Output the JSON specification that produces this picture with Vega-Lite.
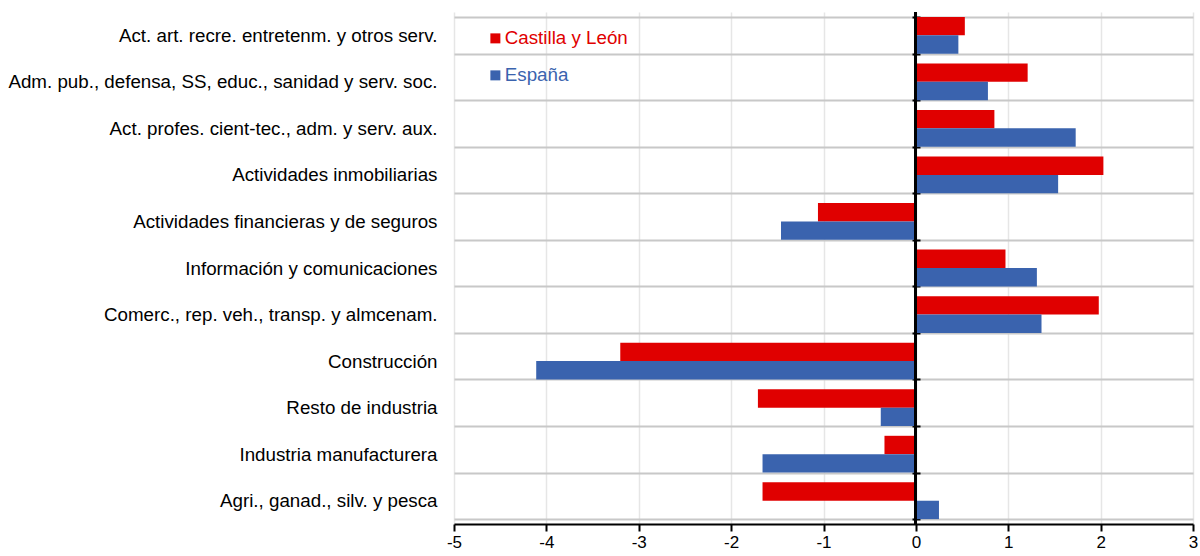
{
  "$schema": "https://vega.github.io/schema/vega-lite/v6.json",
  "width": 739,
  "height": 512,
  "autosize": {"type": "none"},
  "padding": {"left": 454, "top": 12, "right": 7, "bottom": 32},
  "background": "white",
  "config": {
    "view": {"stroke": null},
    "font": "Liberation Sans"
  },
  "data": {
    "values": [
      {"cat": "Act. art. recre. entretenm. y otros serv.", "serie": "Castilla y León", "valor": 0.53},
      {"cat": "Act. art. recre. entretenm. y otros serv.", "serie": "España", "valor": 0.46},
      {"cat": "Adm. pub., defensa, SS, educ., sanidad y serv. soc.", "serie": "Castilla y León", "valor": 1.21},
      {"cat": "Adm. pub., defensa, SS, educ., sanidad y serv. soc.", "serie": "España", "valor": 0.78},
      {"cat": "Act. profes. cient-tec., adm. y serv. aux.", "serie": "Castilla y León", "valor": 0.85},
      {"cat": "Act. profes. cient-tec., adm. y serv. aux.", "serie": "España", "valor": 1.73},
      {"cat": "Actividades inmobiliarias", "serie": "Castilla y León", "valor": 2.03},
      {"cat": "Actividades inmobiliarias", "serie": "España", "valor": 1.54},
      {"cat": "Actividades financieras y de seguros", "serie": "Castilla y León", "valor": -1.06},
      {"cat": "Actividades financieras y de seguros", "serie": "España", "valor": -1.46},
      {"cat": "Información y comunicaciones", "serie": "Castilla y León", "valor": 0.97},
      {"cat": "Información y comunicaciones", "serie": "España", "valor": 1.31},
      {"cat": "Comerc., rep. veh., transp. y almcenam.", "serie": "Castilla y León", "valor": 1.98},
      {"cat": "Comerc., rep. veh., transp. y almcenam.", "serie": "España", "valor": 1.36},
      {"cat": "Construcción", "serie": "Castilla y León", "valor": -3.2},
      {"cat": "Construcción", "serie": "España", "valor": -4.11},
      {"cat": "Resto de industria", "serie": "Castilla y León", "valor": -1.71},
      {"cat": "Resto de industria", "serie": "España", "valor": -0.38},
      {"cat": "Industria manufacturera", "serie": "Castilla y León", "valor": -0.34},
      {"cat": "Industria manufacturera", "serie": "España", "valor": -1.66},
      {"cat": "Agri., ganad., silv. y pesca", "serie": "Castilla y León", "valor": -1.66},
      {"cat": "Agri., ganad., silv. y pesca", "serie": "España", "valor": 0.25}
    ]
  },
  "resolve": {"scale": {"y": "shared"}, "axis": {"y": "independent"}},
  "layer": [
    {
      "mark": {"type": "bar"},
      "encoding": {
        "y": {
          "field": "cat",
          "type": "nominal",
          "sort": null,
          "scale": {"paddingInner": 0.21, "paddingOuter": 0.105},
          "axis": {
            "orient": "left",
            "title": null,
            "tickBand": "extent",
            "grid": true,
            "gridColor": "#C8C8C8",
            "gridWidth": 2,
            "ticks": false,
            "domain": false,
            "labelPadding": 17,
            "labelFontSize": 18.75,
            "labelColor": "#000000",
            "labelLimit": 600
          }
        },
        "yOffset": {"field": "serie", "type": "nominal", "sort": ["Castilla y León", "España"]},
        "x": {
          "field": "valor",
          "type": "quantitative",
          "scale": {"domain": [-5, 3], "nice": false, "zero": false},
          "axis": {
            "title": null,
            "values": [-5, -4, -3, -2, -1, 0, 1, 2, 3],
            "labelExpr": "'' + datum.value",
            "grid": true,
            "gridColor": "#E6E6E6",
            "gridWidth": 1.5,
            "domainColor": "#000000",
            "domainWidth": 2,
            "tickColor": "#000000",
            "tickWidth": 2,
            "tickSize": 7,
            "labelFontSize": 17,
            "labelColor": "#000000",
            "labelPadding": 3,
            "labelFlush": false
          }
        },
        "color": {
          "field": "serie",
          "type": "nominal",
          "sort": ["Castilla y León", "España"],
          "scale": {"domain": ["Castilla y León", "España"], "range": ["#E00000", "#3A63AE"]},
          "legend": {
            "title": null,
            "orient": "none",
            "legendX": 32,
            "legendY": 17,
            "symbolType": "square",
            "symbolSize": 100,
            "symbolStrokeWidth": 0,
            "labelFontSize": 18.75,
            "labelOffset": 0,
            "rowPadding": 17,
            "padding": 0,
            "encode": {
              "labels": {
                "update": {
                  "fill": {"signal": "datum.value === 'España' ? '#3A63AE' : '#E00000'"}
                }
              }
            }
          }
        }
      }
    },
    {
      "mark": {"type": "rule", "color": "#000000", "strokeWidth": 2.2},
      "encoding": {"x": {"datum": 0}}
    },
    {
      "mark": {"type": "bar", "opacity": 0},
      "encoding": {
        "y": {
          "field": "cat",
          "type": "nominal",
          "sort": null,
          "axis": {
            "orient": "right",
            "offset": -281,
            "title": null,
            "tickBand": "extent",
            "grid": false,
            "labels": false,
            "domain": false,
            "ticks": true,
            "tickColor": "#000000",
            "tickWidth": 2,
            "tickSize": 8
          }
        },
        "x": {"field": "valor", "type": "quantitative"}
      }
    }
  ]
}
